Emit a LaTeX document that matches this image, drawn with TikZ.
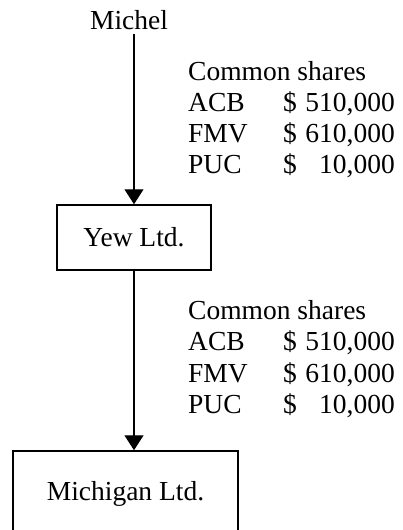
\documentclass[tikz,border=0pt]{standalone}
\usepackage{fontspec}
\setmainfont{Liberation Serif}
\usetikzlibrary{arrows.meta}
\tikzset{
  txt/.style={inner sep=0pt, font=\fontsize{27.5}{31.5}\selectfont},
  boxnode/.style={draw, line width=1.5pt, inner sep=0pt, text height=18pt, text depth=0pt,
    font=\fontsize{27.5}{31.5}\selectfont},
  flow/.style={line width=1.3pt, -{Triangle[length=15pt,width=19pt]}}
}
\begin{document}
\begin{tikzpicture}[x=1pt,y=-1pt]
\useasboundingbox (0,0) rectangle (403,530);
% nodes
\node[txt, anchor=base, inner ysep=5pt] (michel) at (129,29) {Michel};
\node[boxnode, minimum width=154pt, minimum height=65pt] (yew) at (134,237.5) {Yew Ltd.};
\node[boxnode, minimum width=225pt, minimum height=80pt] (mich) at (125.5,491) {Michigan Ltd.};
% first share block
\node[txt, anchor=base west] (t1) at (188,80) {Common shares};
\node[txt, anchor=base west] (a1) at (188,111) {ACB};
\node[txt, anchor=base west] (a1d) at (283,111) {\$};
\node[txt, anchor=base east] (a1v) at (395,111) {510,000};
\node[txt, anchor=base west] (f1) at (188,142) {FMV};
\node[txt, anchor=base west] (f1d) at (283,142) {\$};
\node[txt, anchor=base east] (f1v) at (395,142) {610,000};
\node[txt, anchor=base west] (p1) at (188,173) {PUC};
\node[txt, anchor=base west] (p1d) at (283,173) {\$};
\node[txt, anchor=base east] (p1v) at (395,173) {10,000};
% second share block
\node[txt, anchor=base west] (t2) at (188,319) {Common shares};
\node[txt, anchor=base west] (a2) at (188,350.5) {ACB};
\node[txt, anchor=base west] (a2d) at (283,350.5) {\$};
\node[txt, anchor=base east] (a2v) at (395,350.5) {510,000};
\node[txt, anchor=base west] (f2) at (188,382) {FMV};
\node[txt, anchor=base west] (f2d) at (283,382) {\$};
\node[txt, anchor=base east] (f2v) at (395,382) {610,000};
\node[txt, anchor=base west] (p2) at (188,413.5) {PUC};
\node[txt, anchor=base west] (p2d) at (283,413.5) {\$};
\node[txt, anchor=base east] (p2v) at (395,413.5) {10,000};
% connectors
\draw[flow] (michel.south -| yew.north) -- (yew.north);
\draw[flow] (yew.south) -- (yew.south |- mich.north);
\end{tikzpicture}
\end{document}
